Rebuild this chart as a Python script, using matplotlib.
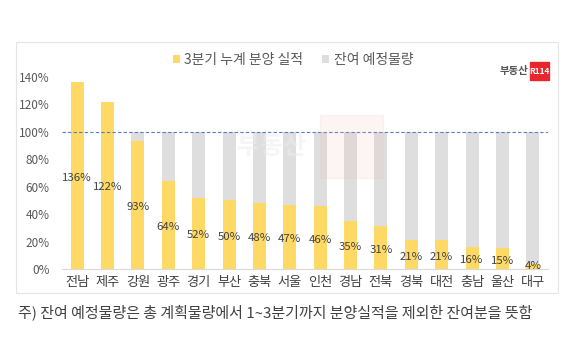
import matplotlib.pyplot as plt
from matplotlib.patches import Rectangle
import numpy as np

plt.rcParams['font.family'] = ['Noto Sans CJK KR', 'DejaVu Sans']

# regions, sorted by sales achieved so far
regions = ['전남', '제주', '강원', '광주', '경기', '부산', '충북', '서울',
           '인천', '경남', '전북', '경북', '대전', '충남', '울산', '대구']
sold = [136, 122, 93, 64, 52, 50, 48, 47, 46, 35, 31, 21, 21, 16, 15, 4]
remain = [max(0, 100 - v) for v in sold]
yticks = [0, 20, 40, 60, 80, 100, 120, 140]

yellow = '#FFD966'
grey = '#DEDEDE'

W, H = 580, 338
fig = plt.figure(figsize=(W / 100, H / 100), dpi=100)
ax = fig.add_axes([62 / W, 1 - 269 / H, (548 - 62) / W, (269 - 77) / H])

x = np.arange(len(regions))
ax.bar(x, sold, width=0.43, color=yellow, label='3분기 누계 분양 실적', zorder=2)
ax.bar(x, remain, width=0.43, bottom=sold, color=grey, label='잔여 예정물량', zorder=2)

# data labels sit roughly in the middle of the yellow bar
for xi, v in zip(x, sold):
    ax.text(xi, max(v / 2 - 1.5, 2), f'{v}%', ha='center', va='center',
            fontsize=8.2, color='#404040', zorder=5)

ax.axhline(100, color='#5B7BC0', lw=0.8, ls=(0, (3, 2)), zorder=3)

ax.set_xlim(-0.5, len(regions) - 0.5)
ax.set_ylim(0, 140)
ax.set_yticks(yticks)
ax.set_yticklabels([f'{t}%' for t in yticks], fontsize=8.5, color='#595959')
ax.set_xticks(x)
ax.set_xticklabels(regions, fontsize=9.5, color='#404040')
ax.tick_params(axis='x', length=0, pad=5)
ax.tick_params(axis='y', length=0, pad=9)
for s in ['top', 'right', 'left']:
    ax.spines[s].set_visible(False)
ax.spines['bottom'].set_color('#D9D9D9')

leg = fig.legend(loc='center', bbox_to_anchor=(293 / W, 1 - 60 / H), ncol=2,
                 frameon=False, fontsize=10, handlelength=0.5, handleheight=0.5,
                 handletextpad=0.3, columnspacing=1.4)
for t in leg.get_texts():
    t.set_color('#595959')

# chart frame
fig.patches.append(Rectangle((16 / W, 1 - 293 / H), (558 - 16) / W, (293 - 42) / H,
                             transform=fig.transFigure, fill=False,
                             ec='#E4E4E4', lw=0.8))

# logo top right
fig.text(528 / W, 1 - 71 / H, '부동산', ha='right', va='center',
         fontsize=7.5, color='#555555', fontweight='bold')
fig.patches.append(Rectangle((530 / W, 1 - 80 / H), 19 / W, 18 / H,
                             transform=fig.transFigure, color='#E8262E'))
fig.text(539.5 / W, 1 - 71 / H, 'R114', ha='center', va='center',
         fontsize=6, color='white', fontweight='bold')

# faint watermark
fig.patches.append(Rectangle((320 / W, 1 - 178 / H), 63 / W, 63 / H,
                             transform=fig.transFigure, color='#F2B8BB',
                             alpha=0.15, zorder=4))
fig.text(272 / W, 1 - 147 / H, '부동산', ha='center', va='center',
         fontsize=18, color='#EDEDED', alpha=0.5, fontweight='bold', zorder=4)

fig.text(18 / W, 1 - 312 / H,
         '주) 잔여 예정물량은 총 계획물량에서 1~3분기까지 분양실적을 제외한 잔여분을 뜻함',
         ha='left', va='center', fontsize=10.8, color='#404040')

fig.savefig('out.png', dpi=100)
